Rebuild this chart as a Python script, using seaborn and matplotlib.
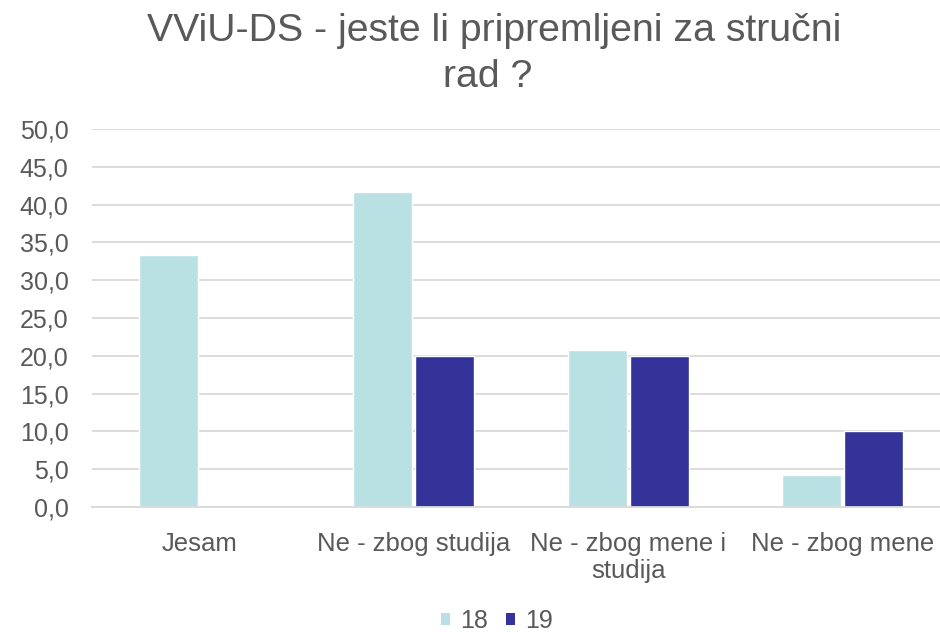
import matplotlib
matplotlib.use("Agg")
import matplotlib.pyplot as plt
import seaborn as sns
import pandas as pd
from matplotlib.ticker import FuncFormatter
from matplotlib.patches import Patch

categories = ["Jesam", "Ne - zbog studija", "Ne - zbog mene i\nstudija", "Ne - zbog mene"]
series_names = ["18", "19"]
values_18 = [33.3, 41.7, 20.8, 4.2]
values_19 = [0.0, 20.0, 20.0, 10.0]
yticks = [0, 5, 10, 15, 20, 25, 30, 35, 40, 45, 50]

colors = {"18": "#B9E0E3", "19": "#333399"}
text_color = "#595959"

df = pd.DataFrame({
    "cat": categories * 2,
    "series": [series_names[0]] * 4 + [series_names[1]] * 4,
    "val": values_18 + values_19,
})

sns.set_theme(style="white")
plt.rcParams['font.family'] = ['Liberation Sans', 'DejaVu Sans']

fig = plt.figure(figsize=(9.4, 6.32), dpi=100)
ax = fig.add_axes([92 / 940, (632 - 507) / 632, (950 - 92) / 940, (507 - 129) / 632])

sns.barplot(data=df, x="cat", y="val", hue="series", palette=colors,
            width=0.58, gap=0.05, ax=ax, legend=False, saturation=1)

ax.set_ylim(0, 50)
ax.set_xlim(-0.5, 3.5)
ax.set_yticks(yticks)
ax.yaxis.set_major_formatter(FuncFormatter(lambda v, p: f"{v:.1f}".replace(".", ",")))
ax.grid(axis="y", color="#D9D9D9", linewidth=1.3)
ax.set_axisbelow(True)
for s in ["top", "right", "left"]:
    ax.spines[s].set_visible(False)
ax.spines["bottom"].set_color("#D9D9D9")
ax.spines["bottom"].set_linewidth(1.3)
ax.set_xlabel("")
ax.set_ylabel("")
ax.tick_params(axis="y", labelsize=18, labelcolor=text_color, length=0, pad=17)
ax.tick_params(axis="x", labelsize=18.5, labelcolor=text_color, length=0, pad=18)
ax.set_xticks([-0.5, 0.5, 1.5, 2.5], minor=True)
ax.tick_params(axis="x", which="minor", length=8, color="#D9D9D9", width=1.3, direction="out")
for lbl in ax.get_xticklabels():
    lbl.set_linespacing(1.15)

fig.text(494 / 940, 1 - 41 / 632, "VViU-DS - jeste li pripremljeni za stručni",
         ha="center", va="baseline", fontsize=28.3, color=text_color)
fig.text(488 / 940, 1 - 87 / 632, "rad ?",
         ha="center", va="baseline", fontsize=28.3, color=text_color)

handles = [Patch(facecolor=colors[s], edgecolor="none", label=s) for s in series_names]
fig.legend(handles=handles, loc="center", bbox_to_anchor=(497 / 940, 1 - 621 / 632),
           ncol=2, frameon=False, fontsize=18, labelcolor=text_color,
           handlelength=0.34, handleheight=0.34, handletextpad=0.4, columnspacing=0.75,
           borderpad=0, borderaxespad=0)

fig.savefig("out.png", dpi=100)
